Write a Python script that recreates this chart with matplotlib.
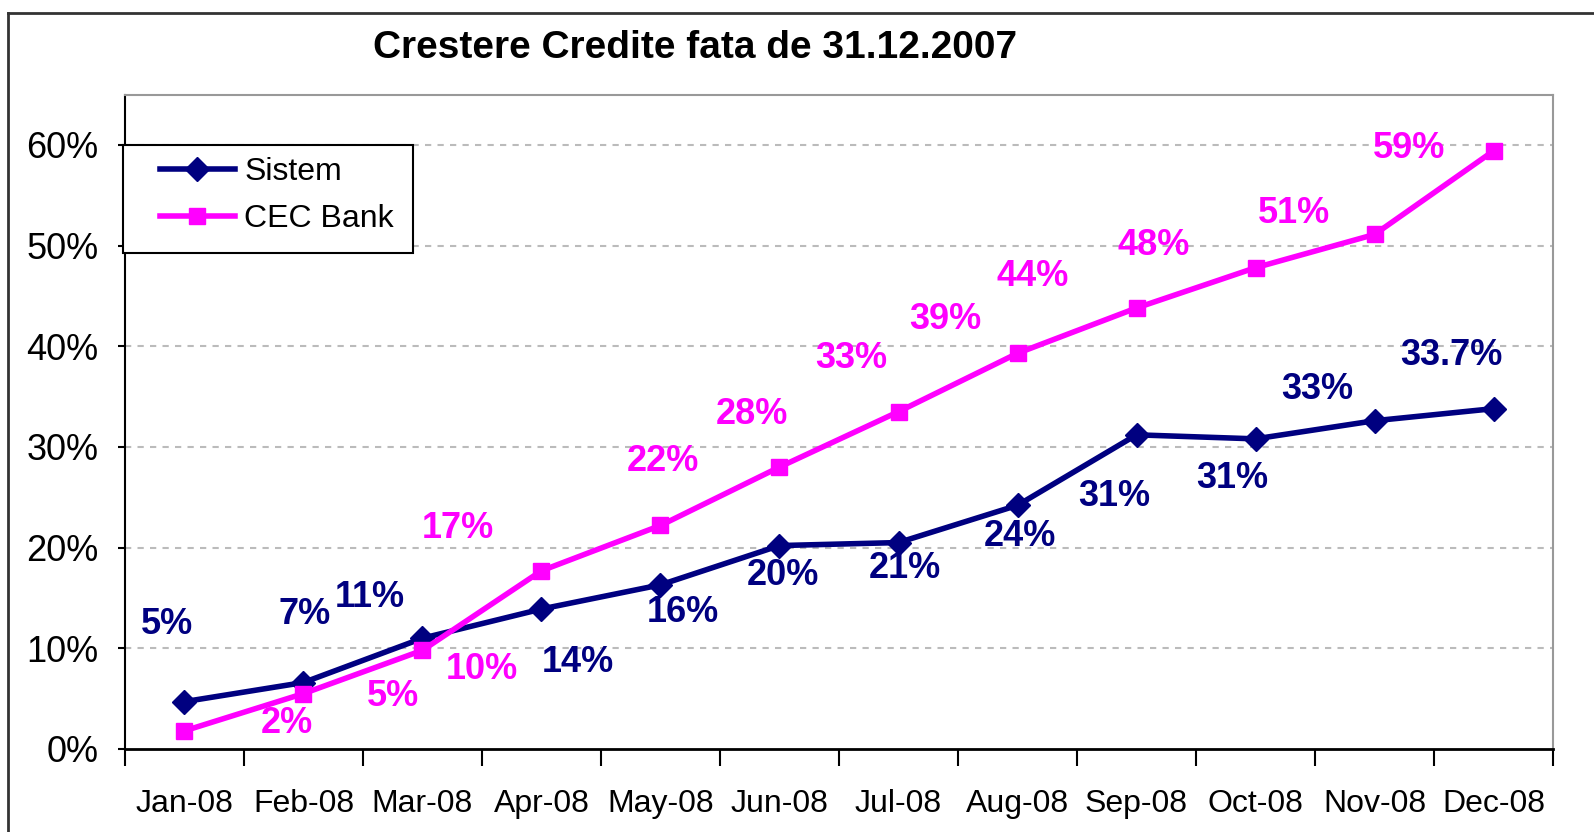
import matplotlib
matplotlib.use("Agg")
import matplotlib.pyplot as plt
from matplotlib.lines import Line2D
from matplotlib.patches import Rectangle
from matplotlib.ticker import FixedLocator, FuncFormatter

plt.rcParams['font.family'] = ['Liberation Sans', 'DejaVu Sans']

# data
months = ['Jan-08', 'Feb-08', 'Mar-08', 'Apr-08', 'May-08', 'Jun-08',
          'Jul-08', 'Aug-08', 'Sep-08', 'Oct-08', 'Nov-08', 'Dec-08']
sistem = [4.7, 6.6, 11.0, 13.9, 16.3, 20.2, 20.5, 24.2, 31.2, 30.8, 32.6, 33.8]
cec = [1.8, 5.5, 9.8, 17.7, 22.2, 28.0, 33.5, 39.3, 43.8, 47.8, 51.1, 59.4]
sistem_labels = ['5%', '7%', '11%', '14%', '16%', '20%', '21%', '24%',
                 '31%', '31%', '33%', '33.7%']
cec_labels = ['2%', '5%', '10%', '17%', '22%', '28%', '33%', '39%',
              '44%', '48%', '51%', '59%']

# label offsets in pixels (x right, y down) as placed in the original
sistem_off = [(-17, -76), (1, -67), (-52, -40), (36, 53), (22, 27), (3, 29),
              (6, 26), (2, 31), (-22, 61), (-23, 39), (-56, -31), (-41, -52)]
cec_off = [(101, -7), (88, 3), (58, 19), (-82, -42), (2, -63), (-27, -52),
           (-46, -52), (-71, -33), (-102, -31), (-100, -22), (-79, -21), (-83, -2)]

NAVY = '#000080'
MAGENTA = '#FF00FF'

fig = plt.figure(figsize=(15.94, 8.32), dpi=100)
ax = fig.add_axes([0.0784, 0.0998, 0.8959, 0.7866])

x = list(range(len(months)))
ax.plot(x, sistem, color=NAVY, lw=4, marker='D', ms=12, label='Sistem', zorder=3)
ax.plot(x, cec, color=MAGENTA, lw=4, marker='s', ms=11, label='CEC Bank', zorder=3)

s = 1594 / 1568
for i in x:
    dx, dy = sistem_off[i]
    ax.annotate(sistem_labels[i], (i, sistem[i]), xytext=(dx * s, -dy * s),
                textcoords='offset pixels', ha='center', va='center',
                fontsize=26, fontweight='bold', color=NAVY, zorder=4)
    dx, dy = cec_off[i]
    ax.annotate(cec_labels[i], (i, cec[i]), xytext=(dx * s, -dy * s),
                textcoords='offset pixels', ha='center', va='center',
                fontsize=26, fontweight='bold', color=MAGENTA, zorder=4)

ax.set_xlim(-0.5, len(months) - 0.5)
ax.set_ylim(0, 65)
ax.set_yticks([0, 10, 20, 30, 40, 50, 60])
ax.yaxis.set_major_formatter(FuncFormatter(lambda v, p: f'{v:.0f}%'))
ax.tick_params(axis='y', length=5, width=1.5, pad=14, labelsize=26)

ax.xaxis.set_major_locator(FixedLocator([i - 0.5 for i in range(len(months) + 1)]))
ax.xaxis.set_minor_locator(FixedLocator(x))
ax.set_xticklabels([])
ax.set_xticklabels(months, minor=True)
ax.tick_params(axis='x', which='major', length=12, width=1.5, direction='out')
ax.tick_params(axis='x', which='minor', length=0, pad=29, labelsize=23)

for v in [10, 20, 30, 40, 50, 60]:
    ax.axhline(v, color='#bbbbbb', lw=1.5, ls=(0, (3, 3)), zorder=1)

ax.spines['left'].set_color('black')
ax.spines['left'].set_linewidth(1.5)
ax.spines['bottom'].set_color('black')
ax.spines['bottom'].set_linewidth(2)
ax.spines['top'].set_color('#999999')
ax.spines['top'].set_linewidth(1.5)
ax.spines['right'].set_color('#999999')
ax.spines['right'].set_linewidth(1.5)

# legend box drawn separately so its padding can match the original
ax.add_patch(Rectangle((-0.0014, 0.7578), 0.2031, 0.165, transform=ax.transAxes,
                       facecolor='white', edgecolor='black', lw=1.5, zorder=5,
                       clip_on=False))
leg = ax.legend(loc='upper left', bbox_to_anchor=(0.0242, 0.905), fontsize=23,
                frameon=False, borderpad=0, handlelength=2.35,
                handletextpad=0.3, labelspacing=0.55, borderaxespad=0)
leg.set_zorder(6)

fig.text(0.436, 0.942, 'Crestere Credite fata de 31.12.2007', ha='center', va='center',
         fontsize=28, fontweight='bold')

# outer chart border (top and left)
fig.add_artist(Line2D([0.005, 1.0], [0.984, 0.984], color='#333333', lw=2))
fig.add_artist(Line2D([0.005, 0.005], [0.0, 0.984], color='#333333', lw=2))

fig.savefig('out.png', dpi=100)
